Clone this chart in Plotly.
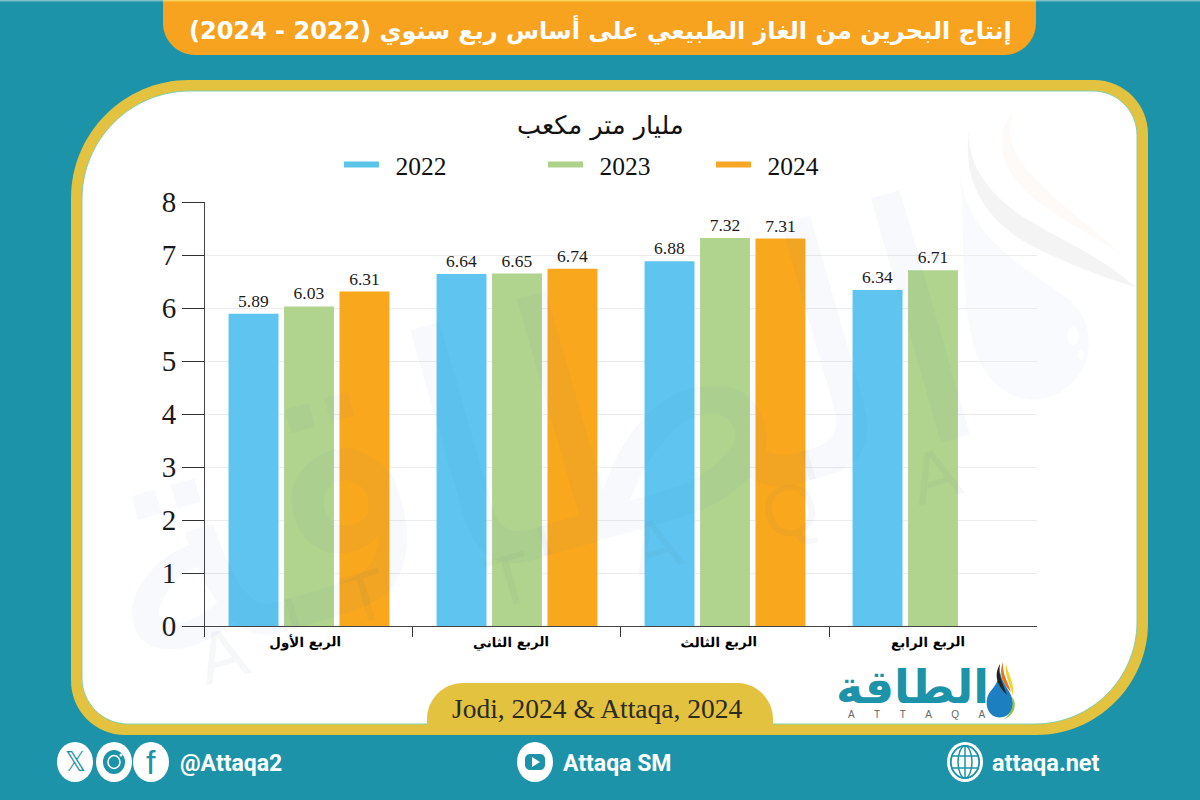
import plotly.graph_objects as go

# ---------- data ----------
quarters = ["الربع الأول", "الربع الثاني", "الربع الثالث", "الربع الرابع"]
y2022 = [5.89, 6.64, 6.88, 6.34]
y2023 = [6.03, 6.65, 7.32, 6.71]
y2024 = [6.31, 6.74, 7.31, None]
years = ["2022", "2023", "2024"]
colors = ["#5FC5F0", "#B0D48E", "#F9A81E"]
legend_colors = ["#5BC5E8", "#AED28C", "#F9A526"]
y_ticks = [0, 1, 2, 3, 4, 5, 6, 7, 8]
title_text = "إنتاج البحرين من الغاز الطبيعي على أساس ربع سنوي (2022 - 2024)"
unit_text = "مليار متر مكعب"
source_text = "Jodi, 2024 & Attaqa, 2024"

TEAL = "#1C93A8"
GOLD = "#E3C240"
ORANGE = "#F8A31F"
W, H = 1200, 800
SERIF = "Liberation Serif, DejaVu Serif, serif"
ARABIC = "DejaVu Sans, Noto Sans, sans-serif"


def X(v):
    return round(v / W, 5)


def Y(v):
    return round(1 - v / H, 5)


def P(*cmds):
    """Build an SVG path in paper coordinates from pixel coordinates."""
    out = []
    for c in cmds:
        out.append(c[0] + " ".join(f"{X(c[i])},{Y(c[i+1])}" for i in range(1, len(c), 2)))
    return " ".join(out) + " Z"


def rrect(x0, y0, x1, y1, tl=0, tr=0, br=0, bl=0):
    k = 0.45
    return P(
        ("M", x0 + tl, y0), ("L", x1 - tr, y0),
        ("C", x1 - tr * k, y0, x1, y0 + tr * k, x1, y0 + tr),
        ("L", x1, y1 - br),
        ("C", x1, y1 - br * k, x1 - br * k, y1, x1 - br, y1),
        ("L", x0 + bl, y1),
        ("C", x0 + bl * k, y1, x0, y1 - bl * k, x0, y1 - bl),
        ("L", x0, y0 + tl),
        ("C", x0, y0 + tl * k, x0 + tl * k, y0, x0 + tl, y0),
    )


def fill(path, color, line=None):
    return dict(type="path", path=path, xref="paper", yref="paper", fillcolor=color,
                line=dict(width=1 if line else 0, color=line or "rgba(0,0,0,0)"), layer="below")


def circle(cx, cy, r, color, line=None, lw=0, ry=None, layer="below"):
    ry = ry or r
    return dict(type="circle", xref="paper", yref="paper", x0=X(cx - r), x1=X(cx + r),
                y0=Y(cy + ry), y1=Y(cy - ry), fillcolor=color, layer=layer,
                line=dict(width=lw, color=line or "rgba(0,0,0,0)"))


def note(text, x, y, size, color="#000", family=SERIF, angle=0, xanchor="center"):
    return dict(text=text, x=X(x), y=Y(y), xref="paper", yref="paper", showarrow=False,
                font=dict(size=size, color=color, family=family), textangle=angle,
                xanchor=xanchor, yanchor="middle")


WM = "rgba(80,90,110,0.05)"
WMF = "Liberation Sans, sans-serif"
GAP = "\u00a0" * 7

shapes = [
    # top strip, banner
    fill(rrect(0, 0, 1200, 1.5), "#7FBFCB"),
    fill(rrect(163, 0, 1036, 55, 0, 0, 32, 32), ORANGE),
    fill(rrect(163, 0, 1036, 1.5), "#F6D35A"),
    # frame and panel
    fill(rrect(71, 80, 1148, 735, 118, 54, 112, 54), GOLD),
    fill(rrect(82, 91, 1137, 724, 108, 44, 102, 46), "#FFFFFF", "#86CFA8"),
    fill(rrect(427, 683, 773, 735, 36, 36, 0, 0), GOLD),
    # watermark drop
    fill(P(("M", 1015, 110), ("C", 995, 130, 995, 165, 1030, 195), ("C", 1060, 220, 1100, 240, 1122, 255),
           ("C", 1090, 225, 1040, 190, 1020, 160), ("C", 1005, 135, 1010, 120, 1015, 110)), "rgba(240,150,90,0.05)"),
    fill(P(("M", 970, 127), ("C", 960, 180, 985, 220, 1030, 245), ("C", 1070, 265, 1110, 280, 1135, 287),
           ("C", 1100, 255, 1060, 240, 1020, 215), ("C", 985, 190, 965, 160, 970, 127)), "rgba(110,110,125,0.08)"),
    fill(P(("M", 960, 170), ("C", 965, 240, 1030, 270, 1070, 300), ("C", 1098, 325, 1095, 372, 1060, 392),
           ("C", 1030, 410, 990, 395, 975, 350), ("C", 960, 300, 965, 240, 960, 170)), "rgba(130,150,210,0.05)"),
    circle(1073, 336, 6, "#FFFFFF", ry=9),
    circle(1081, 355, 3, "#FFFFFF", ry=5),
    # footer icons
    circle(75, 762, 18, "#FFFFFF", ry=20),
    circle(114, 762, 18, "#FFFFFF", ry=20),
    circle(151, 762, 18, "#FFFFFF", ry=20),
    circle(114, 762, 11, TEAL, ry=12),
    circle(114, 762, 6, "rgba(0,0,0,0)", "#FFFFFF", 1.5, ry=6.5),
    circle(121, 755, 1.5, "#FFFFFF"),
    circle(535, 762, 18, "#FFFFFF", ry=20),
    fill(rrect(525, 754, 545, 770, 5, 5, 5, 5), TEAL),
    fill(P(("M", 532, 757), ("L", 532, 767), ("L", 540, 762)), "#FFFFFF"),
    circle(965, 762, 18, "#FFFFFF", ry=20),
    circle(965, 762, 15, TEAL, ry=17),
    circle(965, 762, 14, "#FFFFFF", ry=16),
    circle(965, 762, 7, "rgba(0,0,0,0)", TEAL, 1.5, ry=16),
    circle(965, 762, 14, "rgba(0,0,0,0)", TEAL, 1.5, ry=16),
    dict(type="line", xref="paper", yref="paper", x0=X(965), x1=X(965), y0=Y(746), y1=Y(778), line=dict(color=TEAL, width=1.5), layer="below"),
    dict(type="line", xref="paper", yref="paper", x0=X(951), x1=X(979), y0=Y(756), y1=Y(756), line=dict(color=TEAL, width=1.5), layer="below"),
    dict(type="line", xref="paper", yref="paper", x0=X(951), x1=X(979), y0=Y(768), y1=Y(768), line=dict(color=TEAL, width=1.5), layer="below"),
    # logo drop
    fill(P(("M", 1000, 672), ("C", 1002, 685, 1013, 692, 1013, 704), ("C", 1013, 715, 1002, 719, 996, 717),
           ("C", 986, 714, 984, 700, 990, 692), ("C", 995, 686, 999, 680, 1000, 672)), "#1B7FC0"),
    fill(P(("M", 1000, 664), ("C", 993, 676, 998, 686, 1007, 695), ("C", 1003, 684, 998, 676, 1000, 664)), "#222222"),
    fill(P(("M", 1003, 662), ("C", 998, 674, 1003, 684, 1011, 692), ("C", 1008, 682, 1002, 674, 1003, 662)), "#E8731E"),
    fill(P(("M", 1006, 664), ("C", 1004, 674, 1010, 684, 1013, 696), ("C", 1015, 684, 1008, 674, 1006, 664)), "#F4D02F"),
    fill(P(("M", 1012, 697), ("C", 1018, 704, 1014, 716, 1004, 719), ("C", 1012, 713, 1014, 705, 1012, 697)), "#8CC63F"),
]

annotations = [
    note(f"<b>{title_text}</b>", 600, 30, 24, "#FFFFFF", "DejaVu Sans, sans-serif"),
    note(unit_text, 600, 126, 25.5, "#111111", ARABIC),
    note(source_text, 598, 708, 27.5, "#2B2B20"),
    # faint watermark, over the bars
    note("الطاقة", 530, 440, 335, "rgba(50,110,170,0.04)", "DejaVu Sans, sans-serif", angle=-16),
    note("A", 222, 655, 72, WM, WMF, angle=-16),
    note("T", 365, 597, 72, WM, WMF, angle=-16),
    note("T", 510, 580, 72, WM, WMF, angle=-16),
    note("A", 655, 545, 72, WM, WMF, angle=-16),
    note("Q", 790, 510, 72, WM, WMF, angle=-16),
    note("A", 935, 475, 72, WM, WMF, angle=-16),
    # footer
    note("𝕏", 75, 762, 26, TEAL, "DejaVu Sans, sans-serif"),
    note("f", 151, 762, 34, TEAL, "Liberation Sans, sans-serif"),
    note("<b>@Attaqa2</b>", 178, 763, 23, "#FFFFFF", "Roboto, sans-serif", xanchor="left"),
    note("<b>Attaqa SM</b>", 561, 763, 23, "#FFFFFF", "Roboto, sans-serif", xanchor="left"),
    note("<b>attaqa.net</b>", 990, 763, 23.5, "#FFFFFF", "Roboto, sans-serif", xanchor="left"),
    # logo
    note("<b>الطاقة</b>", 912, 687, 46, "#1C93A8", "DejaVu Sans, sans-serif"),
    note(GAP.join("ATTAQA"), 917, 714, 10, "#666666", "Liberation Sans, sans-serif"),
]

series = [y2022, y2023, y2024]
fig = go.Figure()
for name, vals, col in zip(years, series, colors):
    fig.add_trace(go.Bar(
        x=quarters, y=vals, name=name, marker=dict(color=col, line=dict(width=0)),
        text=[f"{v:.2f}" if v is not None else "" for v in vals],
        textposition="outside", cliponaxis=False,
        textfont=dict(size=17.5, family=SERIF, color="#1A1A1A"),
        showlegend=False, hoverinfo="x+y+name",
    ))

# legend entries drawn as short thick dashes, one legend per entry to keep the spacing
legend_names = ["legend", "legend2", "legend3"]
for name, col, lg in zip(years, legend_colors, legend_names):
    fig.add_trace(go.Scatter(x=[None], y=[None], mode="lines", name="\u00a0\u2009" + name, legend=lg,
                             line=dict(color=col, width=6), showlegend=True))


def legend_at(px):
    return dict(x=X(px), y=Y(165), xref="container", yref="container", xanchor="left", yanchor="middle",
                orientation="h", bgcolor="rgba(0,0,0,0)", borderwidth=0, itemwidth=35, tracegroupgap=0,
                font=dict(size=25.5, family=SERIF, color="#111111"))


fig.update_layout(
    width=W, height=H, margin=dict(l=0, r=0, t=0, b=0, pad=0, autoexpand=False), autosize=False,
    paper_bgcolor=TEAL, plot_bgcolor="rgba(0,0,0,0)",
    barmode="group", bargap=0.2, bargroupgap=0.1,
    shapes=shapes, annotations=annotations,
    legend=legend_at(339), legend2=legend_at(543), legend3=legend_at(711),
    xaxis=dict(domain=[X(205), X(1037)], type="category", tickson="boundaries", ticks="outside", ticklen=10,
               tickcolor="#333333", tickwidth=1, linecolor="#444444", linewidth=1, showline=True,
               showgrid=False, tickangle=-1, ticklabelshift=32, ticklabelstandoff=3,
               tickfont=dict(size=13.5, family=ARABIC, color="#000000", weight="bold"),
               fixedrange=True),
    yaxis=dict(domain=[Y(626), Y(202)], range=[0, 8], tickmode="array", tickvals=y_ticks, ticks="outside",
               ticklen=22, tickcolor="#333333", tickwidth=1, linecolor="#444444", linewidth=1, showline=True,
               showgrid=True, gridcolor="#ECECEC", gridwidth=1, zeroline=False,
               tickfont=dict(size=29, family=SERIF, color="#1A1A1A"), fixedrange=True),
)

fig.write_html("out.html", config=dict(displayModeBar=False),
               post_script="document.body.style.margin='0';document.body.style.overflow='hidden';")
